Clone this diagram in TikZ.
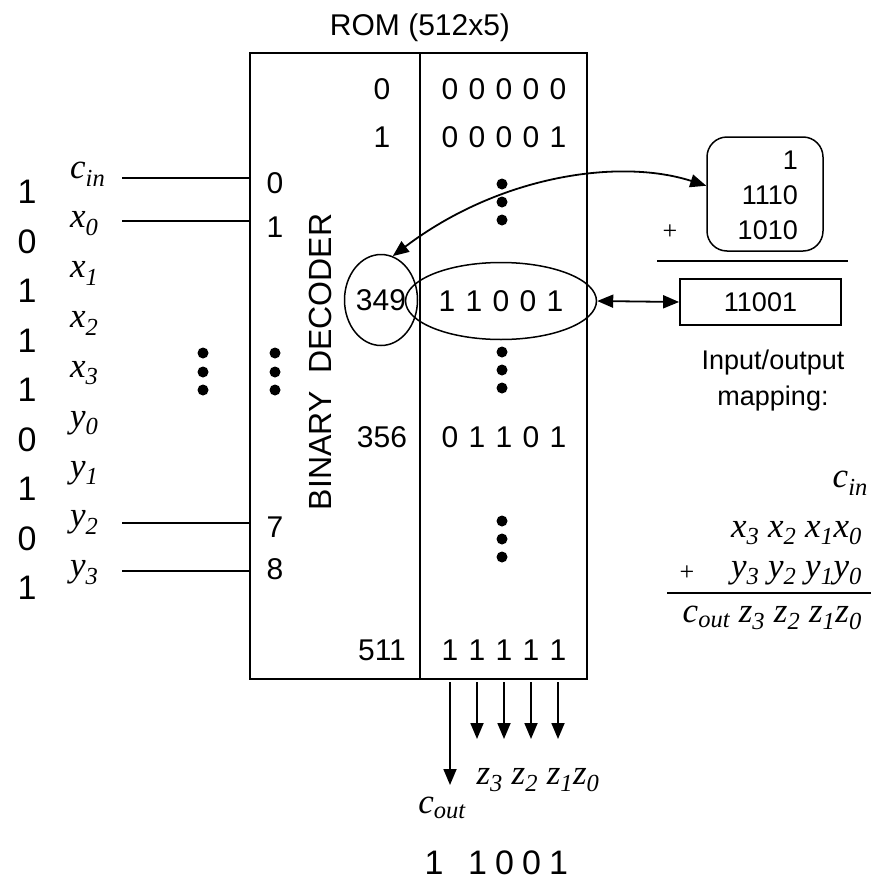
\documentclass[tikz,border=0pt]{standalone}
\usepackage{fontspec}
\setmainfont{Liberation Sans}
\newfontfamily\timesfont{Liberation Serif}
\usetikzlibrary{arrows.meta,positioning,shapes.geometric}

% one ROM word, one column per bit
\newcommand{\bits}[5]{\makebox[27pt]{#1}\makebox[27pt]{#2}\makebox[27pt]{#3}\makebox[27pt]{#4}\makebox[27pt]{#5}}

\begin{document}
\begin{tikzpicture}[
    x=1pt, y=-1pt,
    txt/.style={inner sep=0pt, font=\fontsize{30}{34}\selectfont},
    small/.style={inner sep=0pt, font=\fontsize{27}{36}\selectfont},
    bigdig/.style={inner sep=0pt, font=\fontsize{34}{38}\selectfont},
    var/.style={inner sep=0pt, font=\timesfont\fontsize{35}{38}\selectfont\itshape},
    plus/.style={inner sep=0pt, font=\timesfont\fontsize{26}{28}\selectfont},
    wire/.style={line width=1.8pt},
    arr/.style={-{Triangle[length=16pt,width=13pt]}, line width=1.8pt},
    dblarr/.style={{Triangle[length=16pt,width=13pt]}-{Triangle[length=16pt,width=13pt]}, line width=1.8pt},
    dot/.style={fill=black},
]
\useasboundingbox (0,0) rectangle (871,881);

% ROM block
\node[draw, line width=1.8pt, minimum width=337pt, minimum height=626pt, inner sep=0pt] (rom) at (418.5,366) {};
\coordinate (divtop) at (420,53);
\draw[wire] (divtop) -- (divtop |- rom.south);
\node[txt] (title) at (420,28) {ROM (512x5)};
\node[txt, rotate=90, font=\fontsize{32}{34}\selectfont] (decoder) at (320,362) {BINARY\ \ DECODER};

% Input values and names
\foreach \b [count=\i from 0] in {1,0,1,1,1,0,1,0,1}
  \node[bigdig] (bit\i) at (27,{192+49.5*\i}) {\b};
\foreach \v/\s [count=\i from 0] in {c/in,x/0,x/1,x/2,x/3,y/0,y/1,y/2,y/3}
  \node[var, anchor=west] (in\i) at (70,{174+49.8*\i}) {\v\textsubscript{\s}};

% Decoder inputs
\coordinate (w0) at (122,178);
\coordinate (w1) at (122,221);
\coordinate (w7) at (122,523);
\coordinate (w8) at (122,571);
\foreach \k in {0,1,7,8}
  \draw[wire] (w\k) -- (w\k -| rom.west);
\node[txt] (p0) at (275,183) {0};
\node[txt] (p1) at (275,227) {1};
\node[txt] (p7) at (275,527) {7};
\node[txt] (p8) at (275,569) {8};

% Addresses and words
\node[txt] (a0) at (382,89) {0};
\node[txt] (a1) at (382,137) {1};
\node[txt, draw, ellipse, line width=1.5pt, minimum width=73pt, minimum height=91pt] (a349) at (381,300) {349};
\node[txt] (a356) at (382,437) {356};
\node[txt] (a511) at (382,650) {511};
\node[txt] (d0) at (504,89) {\bits00000};
\node[txt] (d1) at (504,137) {\bits00001};
\node[txt, draw, ellipse, line width=1.5pt, minimum width=144pt, minimum height=77pt, inner sep=0pt] (d349) at (501,301) {\bits11001};
\node[txt] (d356) at (504,437) {\bits01101};
\node[txt] (d511) at (504,650) {\bits11111};

% Dots
\foreach \y in {184,202,220,352,370,388,521,539,557}
  \fill[dot] (502,\y) circle (5.5pt);
\foreach \x in {203,275}
  \foreach \y in {353,372,390}
    \fill[dot] (\x,\y) circle (5.5pt);

% Worked addition
\node[draw, line width=1.5pt, rounded corners=20pt, minimum width=116pt, minimum height=114pt] (sumbox) at (765,194) {};
\node[small, anchor=east] (s0) at (798,160) {1};
\node[small, anchor=east] (s1) at (798,195) {1110};
\node[small, anchor=east] (s2) at (798,230) {1010};
\node[plus] (splus) at (670,232) {+};
\coordinate (sl1) at (657,261);
\coordinate (sl2) at (848,261);
\draw[wire] (sl1) -- (sl2);
\node[small, draw, line width=1.8pt, minimum width=161pt, minimum height=46pt] (res) at (760.5,302) {11001};
\draw[dblarr] (d349.east) -- (res.west);
\draw[dblarr] (a349.75) .. controls (500,175) and (620,158) .. (sumbox.172);
\node[small, align=center] (iomap) at (773,381) {Input/output\\mapping:};

% Mapping
\node[var, anchor=east] (mcin) at (868,483) {c\textsubscript{in}};
\node[var, anchor=east] (mx) at (862,533) {x\textsubscript{3} x\textsubscript{2} x\textsubscript{1}x\textsubscript{0}};
\node[var, anchor=east] (my) at (862,573) {y\textsubscript{3} y\textsubscript{2} y\textsubscript{1}y\textsubscript{0}};
\node[plus] (mplus) at (687,573) {+};
\coordinate (ml1) at (667,593);
\coordinate (ml2) at (871,593);
\draw[wire] (ml1) -- (ml2);
\node[var, anchor=east] (mz) at (862,618) {c\textsubscript{out} z\textsubscript{3} z\textsubscript{2} z\textsubscript{1}z\textsubscript{0}};

% Outputs
\coordinate (cs) at (450,682);
\coordinate (ce) at (450,785);
\draw[arr] (cs) -- (ce);
\foreach \x [count=\i] in {477,504,531,558} {
  \coordinate (zs\i) at (\x,682);
  \coordinate (ze\i) at (\x,739);
  \draw[arr] (zs\i) -- (ze\i);
}
\node[var] (zlab) at (538,780) {z\textsubscript{3} z\textsubscript{2} z\textsubscript{1}z\textsubscript{0}};
\node[var] (coutlab) at (442,808) {c\textsubscript{out}};
\node[bigdig] (r0) at (434,863) {1};
\node[bigdig] (r1) at (518,863) {\makebox[27pt]{1}\makebox[27pt]{0}\makebox[27pt]{0}\makebox[27pt]{1}};
\end{tikzpicture}
\end{document}
